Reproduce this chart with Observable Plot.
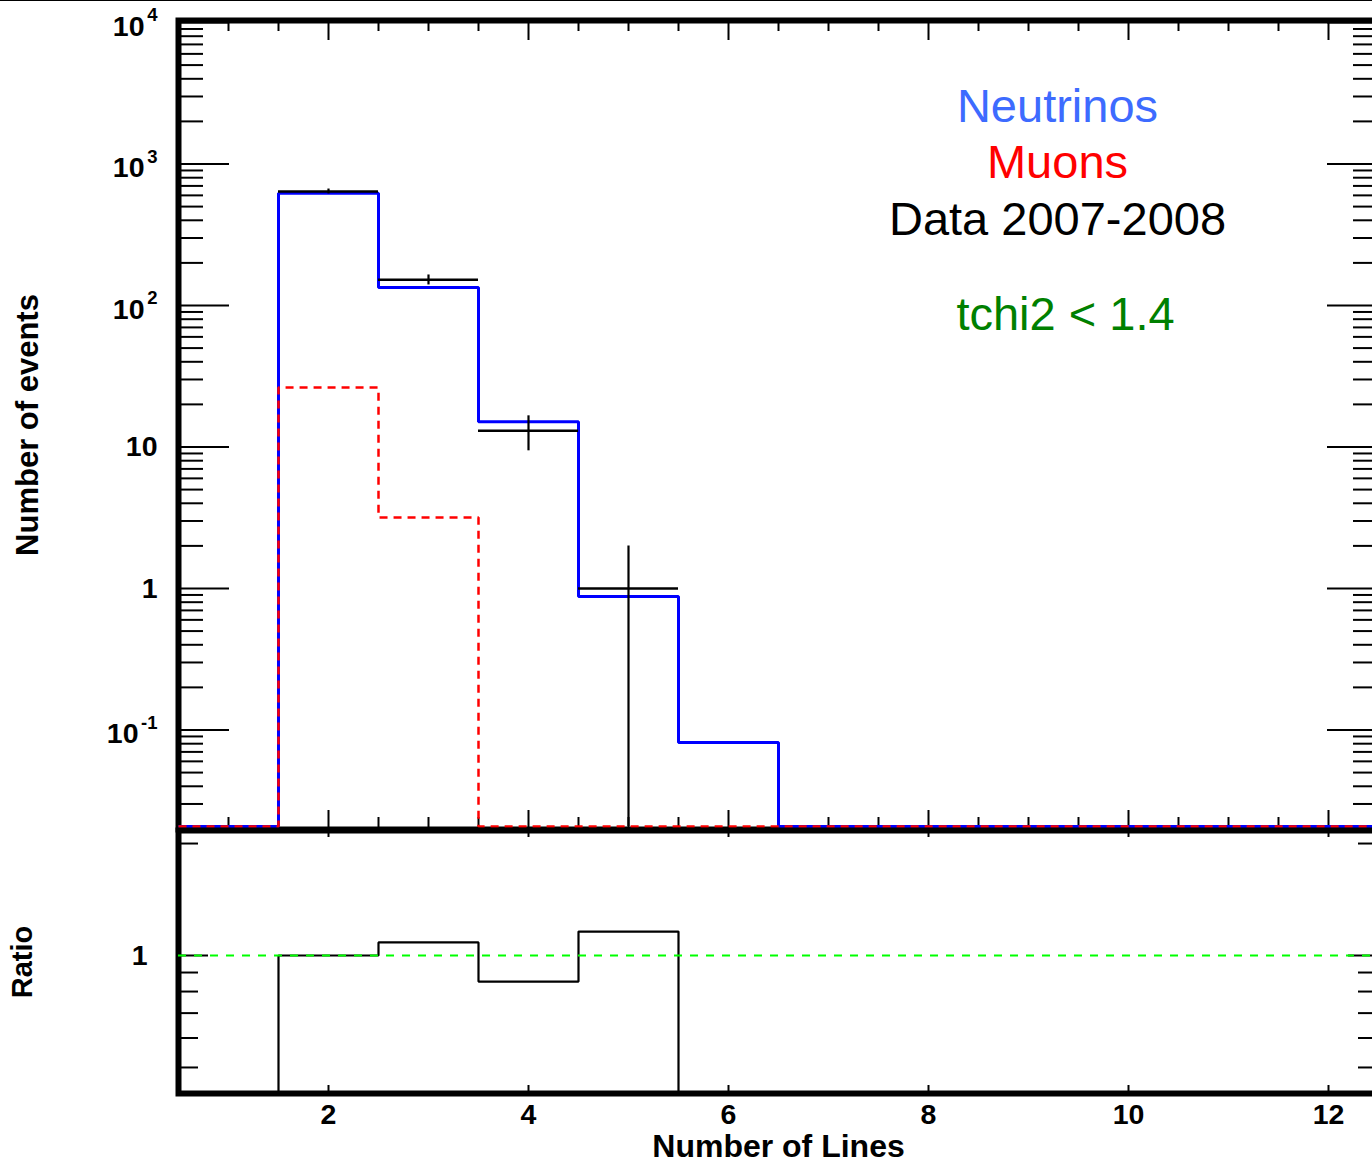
<!DOCTYPE html>
<html><head><meta charset="utf-8">
<script src="https://cdn.jsdelivr.net/npm/d3@7"></script>
<script src="https://cdn.jsdelivr.net/npm/@observablehq/plot@0.6"></script>
<style>
html,body{margin:0;padding:0;background:#fff;overflow:hidden;}
#wrap{position:relative;width:1372px;height:1165px;overflow:hidden;background:#fff;}
#topline{position:absolute;left:0;top:0;width:1372px;height:1px;background:#000;}
#top,#bottom{position:absolute;left:0;}
#top{top:0}
#bottom{top:820px}
svg{max-width:none !important;}
</style></head><body>
<div id="wrap"><div id="top"></div><div id="bottom"></div><div id="topline"></div></div>
<script>
// ---- data ----
const binCenters = [1, 2, 3, 4, 5, 6, 7, 8, 9, 10, 11, 12];
const neutrinos  = [0, 620, 134, 15.1, 0.877, 0.0816, 0, 0, 0, 0, 0, 0];
const muons      = [0, 26.3, 3.17, 0, 0, 0, 0, 0, 0, 0, 0, 0];
const dataCounts = [0, 640, 152, 13, 1, 0, 0, 0, 0, 0, 0, 0];
const ratio      = [0, 1.0, 1.084, 0.851, 1.16, 0, 0, 0, 0, 0, 0, 0];

const yTickValues = [1e4, 1e3, 1e2, 10, 1, 0.1];
const yTickBase   = ["10", "10", "10", "10", "1", "10"];
const yTickExp    = ["4", "3", "2", "", "", "-1"];
const ratioTickValues = [1];
const ratioTickLabels = ["1"];
const ratioMinorTicks = [0.5, 0.6, 0.7, 0.8, 0.9, 2];
const xTickValues = [2, 4, 6, 8, 10, 12];
const legendLabels = ["Neutrinos", "Muons", "Data 2007-2008", "tchi2 < 1.4"];

// ---- layout / style ----
const FONT = "'Liberation Sans', Arial, Helvetica, sans-serif";
const legendColors = ["#3d6bff", "#ff0000", "#000000", "#008000"];
const legendCx = [1057, 1057, 1057, 1065];
const legendMidY = [106, 162, 219, 314];
const W = 1380, ML = 178, MR = 2;
const FW = W - ML - MR; // 1200
const xDomain = [0.5, 12.5];
const yDomain = [0.0198, 10330];
const rDomain = [0.4256, 2.168];

function stepPoints(vals, floor) {
  const pts = [];
  vals.forEach((v, i) => {
    const c = binCenters[i], y = Math.max(v, floor);
    pts.push({x: c - 0.5, y}, {x: c + 0.5, y});
  });
  return pts;
}

// minor/major ticks for log y
const yMajor = [0.1, 1, 10, 100, 1000, 10000];
const yMinor = [];
for (let k = -2; k <= 3; k++) for (let m = 2; m <= 9; m++) {
  const v = m * Math.pow(10, k);
  if (v >= yDomain[0] && v <= yDomain[1]) yMinor.push(v);
}
const xMinor = d3.range(1, 12.51, 0.5).filter(v => v % 2 !== 0);

// ---------- top panel ----------
const TH = 840, MT = 20, MB = 11;
const FH = TH - MT - MB;
const floorTop = yDomain[0] * 1.05;
const dataPts = dataCounts.map((v, i) => ({x: binCenters[i], lo: binCenters[i] - 0.5, hi: binCenters[i] + 0.5,
  y: v, y1: Math.max(v - Math.sqrt(v), floorTop), y2: v + Math.sqrt(v)})).filter(d => d.y > 0);

const topMarks = [
  Plot.tickY(yMinor, {y: d => d, insetRight: FW - 25, strokeWidth: 2}),
  Plot.tickY(yMajor, {y: d => d, insetRight: FW - 51, strokeWidth: 2}),
  Plot.tickY(yMinor, {y: d => d, insetLeft: FW - 25, strokeWidth: 2}),
  Plot.tickY(yMajor, {y: d => d, insetLeft: FW - 51, strokeWidth: 2}),
  Plot.tickX(xMinor, {x: d => d, insetTop: FH - 12, strokeWidth: 2}),
  Plot.tickX(xTickValues, {x: d => d, insetTop: FH - 19, strokeWidth: 2}),
  Plot.tickX(xMinor, {x: d => d, insetBottom: FH - 11, strokeWidth: 2}),
  Plot.tickX(xTickValues, {x: d => d, insetBottom: FH - 20, strokeWidth: 2}),
  Plot.frame({stroke: "#000", strokeWidth: 6}),
  Plot.line(stepPoints(neutrinos, floorTop), {x: "x", y: "y", stroke: "#0000ff", strokeWidth: 3, strokeLinejoin: "miter", strokeLinecap: "butt"}),
  Plot.line(stepPoints(muons, floorTop), {x: "x", y: "y", stroke: "#ff0000", strokeWidth: 2.5, strokeDasharray: "8,6", strokeLinejoin: "miter", strokeLinecap: "butt"}),
  Plot.ruleY(dataPts, {y: "y", x1: "lo", x2: "hi", stroke: "#000", strokeWidth: 2.5}),
  Plot.ruleX(dataPts, {x: "x", y1: "y1", y2: "y2", stroke: "#000", strokeWidth: 2.2})
];
yTickValues.forEach((v, i) => {
  const e = yTickExp[i];
  const ew = e ? e.replace("-", "").length * 10 + (e.includes("-") ? 6 : 0) + 3 : 0;
  topMarks.push(Plot.text([v], {y: d => d, text: () => yTickBase[i], frameAnchor: "left", textAnchor: "end", lineAnchor: "middle",
    dx: -21 - ew, dy: e ? 4 : 0, fontSize: 28.5, fontWeight: "bold", fontFamily: FONT, fill: "#000"}));
  if (e) topMarks.push(Plot.text([v], {y: d => d, text: () => e, frameAnchor: "left", textAnchor: "end", lineAnchor: "middle",
    dx: -21, dy: -7, fontSize: 18.5, fontWeight: "bold", fontFamily: FONT, fill: "#000"}));
});
topMarks.push(Plot.text(["Number of events"], {text: d => d, frameAnchor: "left", textAnchor: "middle", lineAnchor: "middle",
  dx: -150, rotate: -90, fontSize: 31, fontWeight: "bold", fontFamily: FONT, fill: "#000"}));
legendLabels.forEach((t, i) => {
  topMarks.push(Plot.text([t], {text: d => d, frameAnchor: "top-left", dx: legendCx[i] - ML, dy: legendMidY[i] - MT,
    textAnchor: "middle", lineAnchor: "middle", fontSize: 47, fontFamily: FONT, fill: legendColors[i]}));
});

const topPlot = Plot.plot({
  width: W, height: TH, marginLeft: ML, marginRight: MR, marginTop: MT, marginBottom: MB,
  style: {background: "transparent", maxWidth: "none", overflow: "visible", fontFamily: FONT},
  x: {domain: xDomain, axis: null},
  y: {type: "log", domain: yDomain, axis: null},
  marks: topMarks
});
document.getElementById("top").appendChild(topPlot);

// ---------- ratio panel ----------
const BH = 345, BMT = 10, BMB = 72;
const BFH = BH - BMT - BMB;
const botMarks = [
  Plot.tickY(ratioMinorTicks, {y: d => d, insetRight: FW - 20, strokeWidth: 2}),
  Plot.tickY(ratioTickValues, {y: d => d, insetRight: FW - 30, strokeWidth: 2}),
  Plot.tickY(ratioMinorTicks, {y: d => d, insetLeft: FW - 20, strokeWidth: 2}),
  Plot.tickY(ratioTickValues, {y: d => d, insetLeft: FW - 30, strokeWidth: 2}),
  Plot.tickX(xTickValues, {x: d => d, insetTop: BFH - 8, strokeWidth: 2}),
  Plot.tickX(xTickValues, {x: d => d, insetBottom: BFH - 7, strokeWidth: 2}),
  Plot.frame({stroke: "#000", strokeWidth: 6}),
  Plot.line(stepPoints(ratio, rDomain[0]), {x: "x", y: "y", stroke: "#000", strokeWidth: 2.2, strokeLinejoin: "miter", strokeLinecap: "butt"}),
  Plot.ruleY([1], {y: d => d, stroke: "#00ff00", strokeWidth: 2, strokeDasharray: "8,8"}),
  Plot.text(ratioTickValues, {y: d => d, text: (d, i) => ratioTickLabels[i], frameAnchor: "left", textAnchor: "end", lineAnchor: "middle",
    dx: -31, fontSize: 28.5, fontWeight: "bold", fontFamily: FONT, fill: "#000"}),
  Plot.text(xTickValues, {x: d => d, text: d => String(d), frameAnchor: "bottom", lineAnchor: "middle", textAnchor: "middle", dy: 21,
    fontSize: 28.5, fontWeight: "bold", fontFamily: FONT, fill: "#000"}),
  Plot.text(["Ratio"], {text: d => d, frameAnchor: "left", textAnchor: "middle", lineAnchor: "middle", dx: -156, rotate: -90,
    fontSize: 29, fontWeight: "bold", fontFamily: FONT, fill: "#000"}),
  Plot.text(["Number of Lines"], {text: d => d, frameAnchor: "bottom", textAnchor: "middle", lineAnchor: "middle", dy: 53,
    fontSize: 32, fontWeight: "bold", fontFamily: FONT, fill: "#000"})
];
const botPlot = Plot.plot({
  width: W, height: BH, marginLeft: ML, marginRight: MR, marginTop: BMT, marginBottom: BMB,
  style: {background: "transparent", maxWidth: "none", overflow: "visible", fontFamily: FONT},
  x: {domain: xDomain, axis: null},
  y: {type: "log", domain: rDomain, axis: null},
  marks: botMarks
});
document.getElementById("bottom").appendChild(botPlot);
</script>
</body></html>
